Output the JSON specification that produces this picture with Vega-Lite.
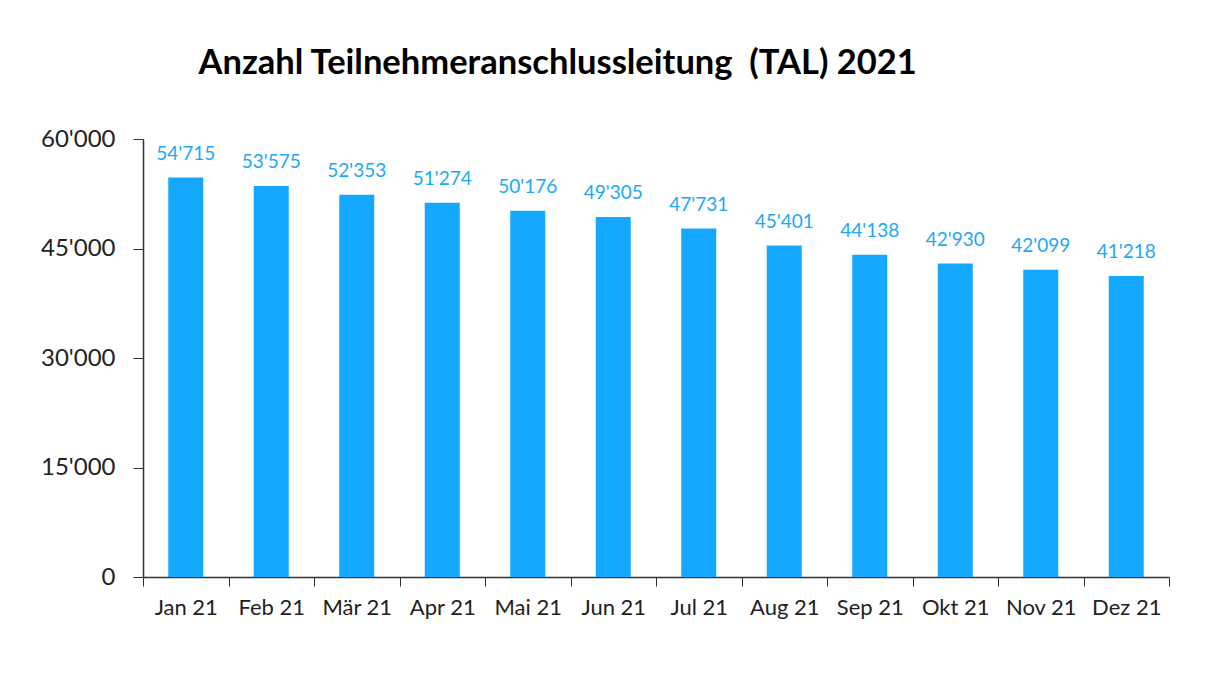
{
  "$schema": "https://vega.github.io/schema/vega-lite/v6.json",
  "autosize": "none",
  "width": 1026,
  "height": 438,
  "padding": {"left": 143, "top": 139, "right": 37, "bottom": 114},
  "background": "white",
  "config": {
    "locale": {"number": {"decimal": ".", "thousands": "'", "grouping": [3], "currency": ["", ""]}},
    "view": {"stroke": null},
    "font": "Lato"
  },
  "title": {
    "text": "Anzahl Teilnehmeranschlussleitung\u00a0 (TAL) 2021",
    "anchor": "start",
    "dx": 158,
    "offset": 46,
    "fontSize": 34.5,
    "fontWeight": "bold",
    "font": "Lato",
    "color": "#000000"
  },
  "data": {
    "values": [
      {"monat": "Jan 21", "wert": 54715},
      {"monat": "Feb 21", "wert": 53575},
      {"monat": "Mär 21", "wert": 52353},
      {"monat": "Apr 21", "wert": 51274},
      {"monat": "Mai 21", "wert": 50176},
      {"monat": "Jun 21", "wert": 49305},
      {"monat": "Jul 21", "wert": 47731},
      {"monat": "Aug 21", "wert": 45401},
      {"monat": "Sep 21", "wert": 44138},
      {"monat": "Okt 21", "wert": 42930},
      {"monat": "Nov 21", "wert": 42099},
      {"monat": "Dez 21", "wert": 41218}
    ]
  },
  "encoding": {
    "x": {
      "field": "monat",
      "type": "nominal",
      "sort": null,
      "scale": {"paddingInner": 0, "paddingOuter": 0},
      "axis": {
        "title": null,
        "labelAngle": 0,
        "labelFontSize": 22,
        "labelColor": "#222222",
        "labelPadding": 11,
        "tickBand": "extent",
        "tickSize": 9,
        "tickColor": "#333333",
        "domainColor": "#333333",
        "domainWidth": 1.5,
        "grid": false
      }
    },
    "y": {
      "field": "wert",
      "type": "quantitative",
      "scale": {"domain": [0, 60000], "nice": false},
      "axis": {
        "title": null,
        "values": [0, 15000, 30000, 45000, 60000],
        "format": ",d",
        "labelFontSize": 24,
        "labelColor": "#222222",
        "labelPadding": 18,
        "tickSize": 10,
        "tickColor": "#333333",
        "domainColor": "#333333",
        "domainWidth": 1.5,
        "grid": false
      }
    }
  },
  "layer": [
    {"mark": {"type": "bar", "size": 35, "color": "#14A9FF"}},
    {
      "mark": {"type": "text", "baseline": "bottom", "dy": -14, "fontSize": 19, "color": "#21A8F5"},
      "encoding": {"text": {"field": "wert", "type": "quantitative", "format": ",d"}}
    }
  ]
}
